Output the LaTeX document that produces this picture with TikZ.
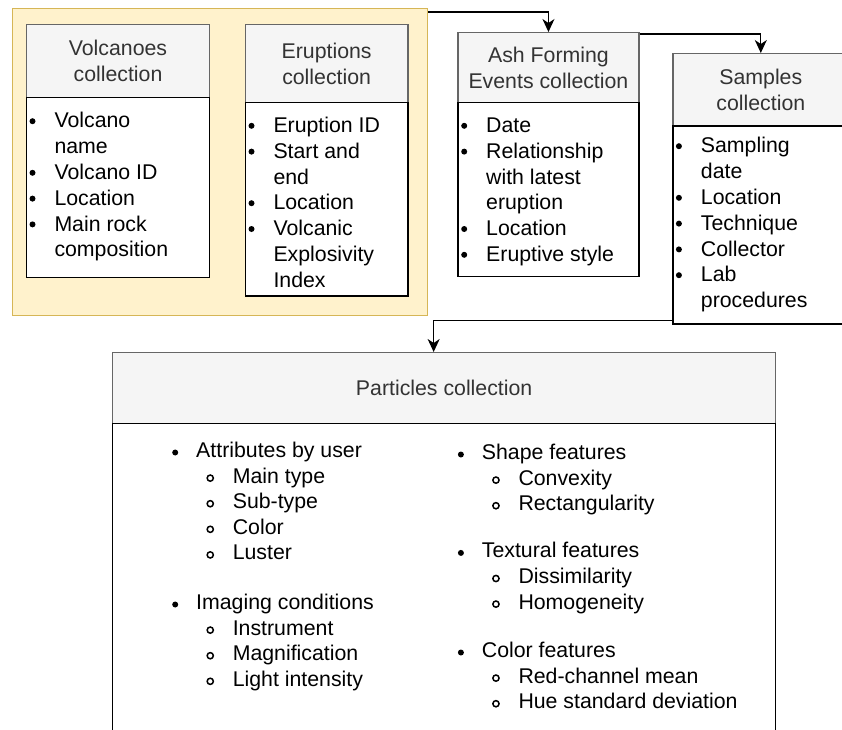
\documentclass[tikz,border=0pt]{standalone}
\usepackage{fontspec}
\setmainfont{Liberation Sans}
\usetikzlibrary{arrows.meta}
\definecolor{hdrfill}{HTML}{F5F5F5}
\definecolor{hdrline}{HTML}{666666}
\definecolor{hdrtext}{HTML}{333333}
\definecolor{grpfill}{HTML}{FFF2CC}
\definecolor{grpline}{HTML}{D6B656}
\newcommand\bdotA{\tikz[baseline=0pt]\fill (3pt,6.7pt) circle (3pt);}
\newcommand\bdotB{\tikz[baseline=0pt]\fill (3pt,5pt) circle (3pt);}
\newcommand\rdotC{\tikz[baseline=0pt]\draw[line width=1.5pt] (3.2pt,5pt) circle (3.1pt);}
\newcommand\TItm[1]{\makebox[25pt][l]{\bdotA}#1}
\newcommand\TCnt[1]{\hspace*{25pt}#1}
\newcommand\PTop[1]{\makebox[24pt][l]{\bdotB}#1}
\newcommand\PSub[1]{\hspace*{34.2pt}\makebox[26.4pt][l]{\rdotC}#1}
\newcommand\fstrut{\rule{0pt}{20pt}}
\tikzset{
  grpbox/.style={draw=grpline, fill=grpfill, line width=1.3pt, inner sep=0pt, anchor=north west},
  hdrbox/.style={draw=hdrline, fill=hdrfill, line width=1.3pt, inner sep=0pt, anchor=north west,
    text=hdrtext, align=center, font=\fontsize{21.3pt}{26pt}\selectfont},
  bodybox/.style={draw=black, fill=white, line width=1.3pt, inner sep=0pt, anchor=north west},
  toplist/.style={inner sep=0pt, anchor=north west, align=left, font=\fontsize{21.3pt}{25.8pt}\selectfont},
  partlist/.style={inner sep=0pt, anchor=north west, align=left, font=\fontsize{21.3pt}{25.6pt}\selectfont},
  arr/.style={draw=black, line width=1.3pt, -{Stealth[length=13pt,width=12pt,inset=4pt]}}
}
\begin{document}
\begin{tikzpicture}[x=1pt,y=-1pt]
\useasboundingbox (0,0) rectangle (842,729);
\clip (0,0) rectangle (842,729);
\fill[white] (0,0) rectangle (842,729);
% group
\node[grpbox, minimum width=415pt, minimum height=307pt] (grp) at (12,8) {};
% headers
\node[hdrbox, minimum width=182.7pt, minimum height=72.5pt] (vh) at (26,24) {Volcanoes\\collection};
\node[hdrbox, minimum width=162.6pt, minimum height=78pt] (eh) at (244.7,24) {Eruptions\\collection};
\node[hdrbox, minimum width=181pt, minimum height=70pt] (ah) at (457.3,32) {Ash Forming\\Events collection};
\node[hdrbox, minimum width=175.7pt, minimum height=72.3pt] (sh) at (672.3,53) {Samples\\collection};
\node[hdrbox, minimum width=663pt, minimum height=71pt] (ph) at (112,352) {Particles collection};
% bodies
\node[bodybox, minimum width=182.7pt, minimum height=180.5pt] (vb) at (26,96.5) {};
\node[bodybox, minimum width=162.6pt, minimum height=193.3pt] (eb) at (244.7,102) {};
\node[bodybox, minimum width=181pt, minimum height=174pt] (ab) at (457.3,102) {};
\node[bodybox, minimum width=175.7pt, minimum height=198pt] (sb) at (672.3,125.3) {};
\node[bodybox, minimum width=663pt, minimum height=340pt] (pb) at (112,423) {};
% lists
\node[toplist] (vl) at (29.3,107.7) {\fstrut\TItm{Volcano}\\\TCnt{name}\\\TItm{Volcano ID}\\\TItm{Location}\\\TItm{Main rock}\\\TCnt{composition}};
\node[toplist] (el) at (248.3,112.3) {\fstrut\TItm{Eruption ID}\\\TItm{Start and}\\\TCnt{end}\\\TItm{Location}\\\TItm{Volcanic}\\\TCnt{Explosivity}\\\TCnt{Index}};
\node[toplist] (al) at (461,112.3) {\fstrut\TItm{Date}\\\TItm{Relationship}\\\TCnt{with latest}\\\TCnt{eruption}\\\TItm{Location}\\\TItm{Eruptive style}};
\node[toplist] (sl) at (675.7,132.7) {\fstrut\TItm{Sampling}\\\TCnt{date}\\\TItm{Location}\\\TItm{Technique}\\\TItm{Collector}\\\TItm{Lab}\\\TCnt{procedures}};
\node[partlist] (pl1) at (172,437.3) {\fstrut\PTop{Attributes by user}\\\PSub{Main type}\\\PSub{Sub-type}\\\PSub{Color}\\\PSub{Luster}};
\node[partlist] (pl2) at (172,589.3) {\fstrut\PTop{Imaging conditions}\\\PSub{Instrument}\\\PSub{Magnification}\\\PSub{Light intensity}};
\node[partlist] (pr1) at (457.7,439.3) {\fstrut\PTop{Shape features}\\\PSub{Convexity}\\\PSub{Rectangularity}};
\node[partlist] (pr2) at (457.7,537.7) {\fstrut\PTop{Textural features}\\\PSub{Dissimilarity}\\\PSub{Homogeneity}};
\node[partlist] (pr3) at (457.7,637.3) {\fstrut\PTop{Color features}\\\PSub{Red-channel mean}\\\PSub{Hue standard deviation}};
% connectors
\draw[arr] ([yshift=-4pt]grp.north east) -| (ah.north);
\draw[arr] ([yshift=-2pt]ah.north east) -| (sh.north);
\draw[arr] ([yshift=4pt]sb.south west) -| ([xshift=-10.5pt]ph.north);
\end{tikzpicture}
\end{document}
